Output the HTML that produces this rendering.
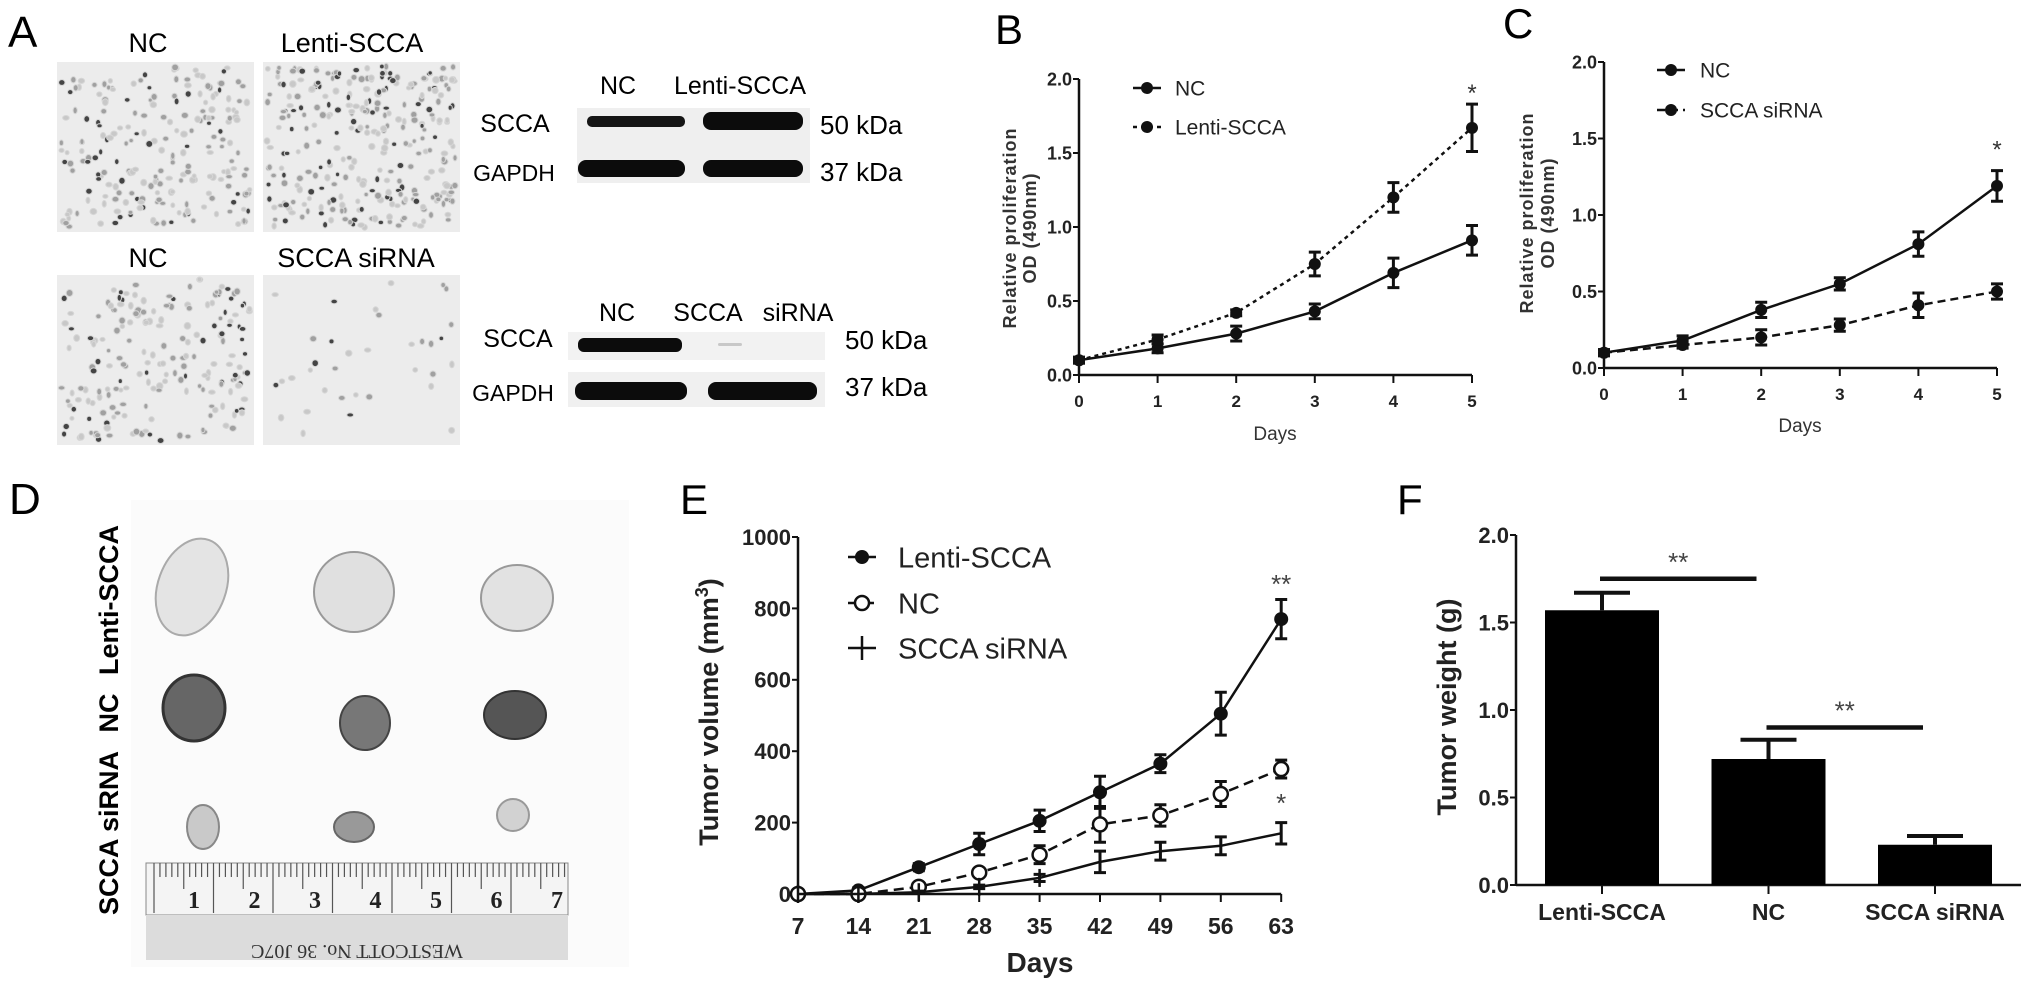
<!DOCTYPE html>
<html><head><meta charset="utf-8"><title>SCCA figure</title>
<style>
html,body{margin:0;padding:0;background:#fff;}
svg{display:block;font-family:"Liberation Sans",Arial,sans-serif;}
.b{font-weight:bold;}
</style></head>
<body>
<svg id="fig" xmlns="http://www.w3.org/2000/svg" width="2031" height="992" viewBox="0 0 2031 992">
<rect x="0" y="0" width="2031" height="992" fill="#fff"/>
<!-- Panel A -->
<text x="8" y="47" font-size="44">A</text>
<text x="148" y="52" font-size="27" text-anchor="middle">NC</text>
<text x="352" y="52" font-size="27" text-anchor="middle">Lenti-SCCA</text>
<text x="148" y="267" font-size="27" text-anchor="middle">NC</text>
<text x="356" y="267" font-size="27" text-anchor="middle">SCCA siRNA</text>
<g id="micro"></g>
<!-- Western blots -->
<g>
<text x="618" y="94" font-size="25" text-anchor="middle">NC</text>
<text x="740" y="94" font-size="25" text-anchor="middle">Lenti-SCCA</text>
<text x="515" y="132" font-size="25" text-anchor="middle">SCCA</text>
<text x="514" y="181" font-size="23" text-anchor="middle">GAPDH</text>
<rect x="577" y="108" width="233" height="75" fill="#efefef"/>
<rect x="587" y="116" width="98" height="11" rx="5" fill="#151515"/>
<rect x="703" y="112" width="100" height="18" rx="8" fill="#0c0c0c"/>
<rect x="578" y="160" width="107" height="17" rx="8" fill="#0c0c0c"/>
<rect x="703" y="160" width="100" height="17" rx="8" fill="#0c0c0c"/>
<text x="820" y="134" font-size="26">50 kDa</text>
<text x="820" y="181" font-size="26">37 kDa</text>
</g>
<g>
<text x="617" y="321" font-size="25" text-anchor="middle">NC</text>
<text x="708" y="321" font-size="25" text-anchor="middle">SCCA</text>
<text x="798" y="321" font-size="25" text-anchor="middle">siRNA</text>
<text x="518" y="347" font-size="25" text-anchor="middle">SCCA</text>
<text x="513" y="401" font-size="23" text-anchor="middle">GAPDH</text>
<rect x="568" y="332" width="257" height="28" fill="#f2f2f2"/>
<rect x="568" y="372" width="257" height="35" fill="#f0f0f0"/>
<rect x="578" y="338" width="104" height="14" rx="6" fill="#0c0c0c"/>
<rect x="718" y="343" width="24" height="3" rx="1.5" fill="#c8c8c8"/>
<rect x="575" y="382" width="112" height="18" rx="8" fill="#0c0c0c"/>
<rect x="708" y="382" width="109" height="18" rx="8" fill="#0c0c0c"/>
<text x="845" y="349" font-size="26">50 kDa</text>
<text x="845" y="396" font-size="26">37 kDa</text>
</g>
<!-- Panel D -->
<text x="9" y="514" font-size="44">D</text>
<rect x="131" y="500" width="498" height="467" fill="#fbfbfb"/>
<text transform="translate(118,600) rotate(-90)" font-size="27" class="b" text-anchor="middle">Lenti-SCCA</text>
<text transform="translate(118,713) rotate(-90)" font-size="27" class="b" text-anchor="middle">NC</text>
<text transform="translate(118,833) rotate(-90)" font-size="27" class="b" text-anchor="middle">SCCA  siRNA</text>
<g>
<ellipse cx="192" cy="587" rx="34" ry="50" transform="rotate(20 192 587)" fill="#e4e4e4" stroke="#aaa" stroke-width="2"/>
<ellipse cx="354" cy="592" rx="40" ry="40" fill="#e0e0e0" stroke="#999" stroke-width="2"/>
<ellipse cx="517" cy="598" rx="36" ry="33" fill="#e2e2e2" stroke="#999" stroke-width="2"/>
<ellipse cx="194" cy="708" rx="31" ry="33" fill="#666" stroke="#333" stroke-width="3"/>
<ellipse cx="365" cy="723" rx="25" ry="27" fill="#777" stroke="#444" stroke-width="2"/>
<ellipse cx="515" cy="715" rx="31" ry="24" fill="#555" stroke="#333" stroke-width="2"/>
<ellipse cx="203" cy="827" rx="16" ry="22" fill="#c9c9c9" stroke="#888" stroke-width="2"/>
<ellipse cx="354" cy="827" rx="20" ry="15" fill="#999" stroke="#666" stroke-width="2"/>
<ellipse cx="513" cy="815" rx="16" ry="16" fill="#d2d2d2" stroke="#999" stroke-width="2"/>
</g>
<g id="ruler">
<rect x="146" y="863" width="422" height="52" fill="#f4f4f4" stroke="#888"/>
<rect x="146" y="915" width="422" height="45" fill="#dcdcdc"/>
<text transform="translate(357,945) rotate(180)" font-size="20" font-family="Liberation Serif" text-anchor="middle" fill="#333">WESTCOTT   No. 36     J07C</text>
</g>
<!-- Panel B/C/E/F labels -->
<text x="995" y="44" font-size="42">B</text>
<text x="1503" y="38" font-size="42">C</text>
<text x="680" y="514" font-size="42">E</text>
<text x="1397" y="514" font-size="42">F</text>
<g id="chartB"></g>
<g id="chartC"></g>
<g id="chartE"></g>
<g id="chartF"></g>
</svg>
<script>
// ---- Chart data ----
const bDays = [0,1,2,3,4,5];
const bNC = [0.1,0.18,0.28,0.43,0.69,0.91];
const bNCErr = [0.02,0.03,0.05,0.05,0.1,0.1];
const bLenti = [0.1,0.24,0.42,0.75,1.2,1.67];
const bLentiErr = [0.02,0.03,0.02,0.08,0.1,0.16];
const bYTicks = [0,0.5,1.0,1.5,2.0];
const bYTickLabels = ["0.0","0.5","1.0","1.5","2.0"];

const cDays = [0,1,2,3,4,5];
const cNC = [0.1,0.18,0.38,0.55,0.81,1.19];
const cNCErr = [0.02,0.03,0.05,0.04,0.08,0.1];
const cSi = [0.1,0.15,0.2,0.28,0.41,0.5];
const cSiErr = [0.02,0.02,0.05,0.04,0.08,0.05];
const cYTicks = [0,0.5,1.0,1.5,2.0];
const cYTickLabels = ["0.0","0.5","1.0","1.5","2.0"];

const eDays = [7,14,21,28,35,42,49,56,63];
const eLenti = [0,10,75,140,205,285,365,505,770];
const eLentiErr = [0,8,10,30,30,45,25,60,55];
const eNC = [0,0,20,60,110,195,220,280,350];
const eNCErr = [0,0,8,10,25,50,30,35,25];
const eSi = [0,0,5,20,45,90,120,135,170];
const eSiErr = [0,0,3,5,10,30,25,25,30];
const eYTicks = [0,200,400,600,800,1000];

const fCats = ["Lenti-SCCA","NC","SCCA  siRNA"];
const fVals = [1.57,0.72,0.23];
const fErr = [0.1,0.11,0.05];
const fYTicks = [0,0.5,1.0,1.5,2.0];
const fYTickLabels = ["0.0","0.5","1.0","1.5","2.0"];

const NS = "http://www.w3.org/2000/svg";
function mk(parent, tag, attrs, txt){
  const el = document.createElementNS(NS, tag);
  for (const k in attrs) el.setAttribute(k, attrs[k]);
  if (txt !== undefined) el.textContent = txt;
  parent.appendChild(el);
  return el;
}
function pathFrom(xs, ys){ return xs.map((x,i)=>(i?"L":"M")+x.toFixed(1)+","+ys[i].toFixed(1)).join(" "); }

// ---- Micrographs (texture only) ----
(function(){
  const g = document.getElementById("micro");
  const boxes = [[57,62,197,170,220],[263,62,197,170,300],[57,275,197,170,200],[263,275,197,170,35]];
  let s = 12345;
  function rnd(){ s = (s*1103515245+12345) & 0x7fffffff; return s/0x7fffffff; }
  boxes.forEach((b,bi)=>{
    const r = mk(g,"rect",{x:b[0],y:b[1],width:b[2],height:b[3],fill:"#ececec"});
    
    
    for(let i=0;i<b[4];i++){
      const cx=b[0]+4+rnd()*(b[2]-8), cy=b[1]+4+rnd()*(b[3]-8);
      const dark = rnd();
      const c = mk(g,"ellipse",{cx:cx,cy:cy,rx:2+rnd()*1.5,ry:2+rnd()*1.5,fill:dark>0.8?"#444":(dark>0.45?"#a0a0a0":"#c8c8c8"),stroke:"#d6d6d6","stroke-width":1});
      
      
    }
  });
  // ruler ticks and numbers
  const rg = document.getElementById("ruler");
  for(let i=0;i<=70;i++){
    const x=146+8+i*5.95; if(x>566) break;
    const h = i%10===0?50:(i%5===0?26:14);
    const t = mk(rg,"line",{x1:x,y1:863,x2:x,y2:863+h,stroke:"#555","stroke-width":1.2});
    
    
  }
  for(let n=1;n<=7;n++){
    const t = mk(rg,"text",{x:194+(n-1)*60.5,y:908,"font-size":24,"font-family":"Liberation Serif","font-weight":"bold","text-anchor":"middle",fill:"#222"},String(n));
    
    
  }
})();

// ---- Line chart builder ----
function lineChart(g, cfg){
  const X = cfg.x, Y = cfg.y;
  const ya = mk(g,"line",{x1:X(cfg.xmin),y1:Y(0),x2:X(cfg.xmin),y2:Y(cfg.ymax),stroke:"#111","stroke-width":2.5});
  
  
  const xa = mk(g,"line",{x1:X(cfg.xmin),y1:Y(0),x2:X(cfg.xmax),y2:Y(0),stroke:"#111","stroke-width":2.5});
  
  
  cfg.yTicks.forEach((v,i)=>{
    const t = mk(g,"line",{x1:X(cfg.xmin)-6,y1:Y(v),x2:X(cfg.xmin),y2:Y(v),stroke:"#111","stroke-width":2});
    
    
    const l = mk(g,"text",{x:X(cfg.xmin)-7,y:Y(v)+cfg.yfs*0.36,"font-size":cfg.yfs,"font-weight":"bold","text-anchor":"end",fill:"#222"},cfg.yLabels[i]);
    
    
  });
  cfg.xTicks.forEach(d=>{
    const t = mk(g,"line",{x1:X(d),y1:Y(0),x2:X(d),y2:Y(0)+8,stroke:"#111","stroke-width":2});
    
    
    const l = mk(g,"text",{x:X(d),y:Y(0)+cfg.xlOff,"font-size":cfg.xfs,"font-weight":"bold","text-anchor":"middle",fill:"#222"},String(d));
    
    
  });
  cfg.series.forEach(s=>{
    const xs = cfg.xTicks.map(X), ys = s.vals.map(Y);
    const p = mk(g,"path",{d:pathFrom(xs,ys),fill:"none",stroke:"#111","stroke-width":2.5,"stroke-dasharray":s.dash||"none"});
    
    
    s.vals.forEach((v,i)=>{
      const e = s.err[i];
      if(e>0){
        const eb = mk(g,"path",{d:`M${xs[i]},${Y(v-e)} L${xs[i]},${Y(v+e)} M${xs[i]-6},${Y(v-e)} L${xs[i]+6},${Y(v-e)} M${xs[i]-6},${Y(v+e)} L${xs[i]+6},${Y(v+e)}`,stroke:"#111","stroke-width":3,fill:"none"});
        
        
      }
      let m;
      if(s.marker==="open") m = mk(g,"circle",{cx:xs[i],cy:ys[i],r:cfg.mr,fill:"#fff",stroke:"#111","stroke-width":2.5});
      else if(s.marker==="plus") m = mk(g,"path",{d:`M${xs[i]},${ys[i]-9} L${xs[i]},${ys[i]+9}`,stroke:"#111","stroke-width":2.5});
      else m = mk(g,"circle",{cx:xs[i],cy:ys[i],r:cfg.mr,fill:"#111"});
      
      
    });
  });
  cfg.legend.forEach((L,i)=>{
    const y = L.y;
    const s = cfg.series[i];
    const ln = mk(g,"line",{x1:L.x-14,y1:y,x2:L.x+14,y2:y,stroke:"#111","stroke-width":2.5,"stroke-dasharray":s.dash||"none"});
    
    
    let m;
    if(s.marker==="open") m = mk(g,"circle",{cx:L.x,cy:y,r:cfg.mr,fill:"#fff",stroke:"#111","stroke-width":2.5});
    else if(s.marker==="plus") m = mk(g,"path",{d:`M${L.x},${y-12} L${L.x},${y+12}`,stroke:"#111","stroke-width":2.5});
    else m = mk(g,"circle",{cx:L.x,cy:y,r:cfg.mr,fill:"#111"});
    
    
    const t = mk(g,"text",{x:L.tx,y:y+cfg.lfs*0.36,"font-size":cfg.lfs,fill:"#222"},L.text);
    
    
  });
}

// Chart B
(function(){
  const g = document.getElementById("chartB");
  const X = d=>1079+d*78.6, Y = v=>375-v*148;
  lineChart(g,{x:X,y:Y,xmin:0,xmax:5,ymax:2,yTicks:bYTicks,yLabels:bYTickLabels,xTicks:bDays,yfs:18,xfs:17,xlOff:32,mr:6,lfs:21,
    series:[{name:'nc',vals:bNC,err:bNCErr},{name:'lenti-scca',vals:bLenti,err:bLentiErr,dash:"4,4"}],
    legend:[{x:1147,tx:1175,y:88,text:"NC"},{x:1147,tx:1175,y:127,text:"Lenti-SCCA"}]});
  const st = mk(g,"text",{x:X(5),y:Y(1.92)+10,"font-size":24,"text-anchor":"middle",fill:"#333"},"*");
  
  
  const xt = mk(g,"text",{x:1275,y:440,"font-size":19,"text-anchor":"middle",fill:"#333"},"Days");
  
  
  const y1 = mk(g,"text",{transform:"translate(1016,228) rotate(-90)","font-size":18,"font-weight":"bold","text-anchor":"middle","letter-spacing":"1",fill:"#333"},"Relative  proliferation");
  
  
  const y2 = mk(g,"text",{transform:"translate(1036,228) rotate(-90)","font-size":18,"font-weight":"bold","text-anchor":"middle","letter-spacing":"1",fill:"#333"},"OD  (490nm)");
  
  
})();

// Chart C
(function(){
  const g = document.getElementById("chartC");
  const X = d=>1604+d*78.6, Y = v=>368-v*153;
  lineChart(g,{x:X,y:Y,xmin:0,xmax:5,ymax:2,yTicks:cYTicks,yLabels:cYTickLabels,xTicks:cDays,yfs:18,xfs:17,xlOff:32,mr:6,lfs:21,
    series:[{name:'nc',vals:cNC,err:cNCErr},{name:'scca-sirna',vals:cSi,err:cSiErr,dash:"8,5"}],
    legend:[{x:1671,tx:1700,y:70,text:"NC"},{x:1671,tx:1700,y:110,text:"SCCA  siRNA"}]});
  const st = mk(g,"text",{x:X(5),y:Y(1.44)+10,"font-size":24,"text-anchor":"middle",fill:"#333"},"*");
  
  
  const xt = mk(g,"text",{x:1800,y:432,"font-size":19,"text-anchor":"middle",fill:"#333"},"Days");
  
  
  const y1 = mk(g,"text",{transform:"translate(1533,213) rotate(-90)","font-size":18,"font-weight":"bold","text-anchor":"middle","letter-spacing":"1",fill:"#333"},"Relative  proliferation");
  
  
  const y2 = mk(g,"text",{transform:"translate(1554,213) rotate(-90)","font-size":18,"font-weight":"bold","text-anchor":"middle","letter-spacing":"1",fill:"#333"},"OD  (490nm)");
  
  
})();

// Chart E
(function(){
  const g = document.getElementById("chartE");
  const X = d=>798+(d-7)/7*60.4, Y = v=>894-v*0.357;
  lineChart(g,{x:X,y:Y,xmin:7,xmax:63,ymax:1000,yTicks:eYTicks,yLabels:eYTicks.map(String),xTicks:eDays,yfs:22,xfs:23,xlOff:40,mr:7,lfs:29,
    series:[{name:'lenti-scca',vals:eLenti,err:eLentiErr},{name:'nc',vals:eNC,err:eNCErr,dash:"10,6",marker:"open"},{name:'scca-sirna',vals:eSi,err:eSiErr,marker:"plus"}],
    legend:[{x:862,tx:898,y:557,text:"Lenti-SCCA"},{x:862,tx:898,y:603,text:"NC"},{x:862,tx:898,y:648,text:"SCCA  siRNA"}]});
  const s1 = mk(g,"text",{x:X(63),y:593,"font-size":26,"text-anchor":"middle",fill:"#444"},"**");
  
  
  const s2 = mk(g,"text",{x:X(63),y:812,"font-size":26,"text-anchor":"middle",fill:"#444"},"*");
  
  
  const xt = mk(g,"text",{x:1040,y:972,"font-size":28,"font-weight":"bold","text-anchor":"middle",fill:"#222"},"Days");
  
  
  const yt = mk(g,"text",{transform:"translate(718,712) rotate(-90)","font-size":27,"font-weight":"bold","text-anchor":"middle",fill:"#222"});
  
  
  yt.textContent = "Tumor volume (mm";
  const sup = mk(yt,"tspan",{"font-size":18,dy:-10},"3");
  
  
  const cl = mk(yt,"tspan",{dy:10},")");
  
  
})();

// Chart F
(function(){
  const g = document.getElementById("chartF");
  const Y = v=>885-v*175, X = i=>1602+i*166.5, BW = 114, AX = 1516;
  const ya = mk(g,"line",{x1:AX,y1:Y(0),x2:AX,y2:Y(2),stroke:"#111","stroke-width":2.5});
  
  
  const xa = mk(g,"line",{x1:AX,y1:Y(0),x2:2021,y2:Y(0),stroke:"#111","stroke-width":2.5});
  
  
  fYTicks.forEach((v,i)=>{
    const t = mk(g,"line",{x1:AX-6,y1:Y(v),x2:AX,y2:Y(v),stroke:"#111","stroke-width":2});
    
    
    const l = mk(g,"text",{x:AX-7,y:Y(v)+8,"font-size":22,"font-weight":"bold","text-anchor":"end",fill:"#222"},fYTickLabels[i]);
    
    
  });
  fCats.forEach((c,i)=>{
    const e = mk(g,"path",{d:`M${X(i)},${Y(fVals[i])} L${X(i)},${Y(fVals[i]+fErr[i])} M${X(i)-28},${Y(fVals[i]+fErr[i])} L${X(i)+28},${Y(fVals[i]+fErr[i])}`,stroke:"#111","stroke-width":4,fill:"none"});
    
    
    const b = mk(g,"rect",{x:X(i)-BW/2,y:Y(fVals[i]),width:BW,height:Y(0)-Y(fVals[i]),fill:"#000"});
    
    
    const t = mk(g,"line",{x1:X(i),y1:Y(0),x2:X(i),y2:Y(0)+9,stroke:"#111","stroke-width":2});
    
    
    const l = mk(g,"text",{x:X(i),y:920,"font-size":23,"font-weight":"bold","text-anchor":"middle",fill:"#222"},c);
    
    
  });
  const sig = [[0,1,1.75],[1,2,0.9]];
  sig.forEach(s=>{
    const ln = mk(g,"line",{x1:X(s[0])-2,y1:Y(s[2]),x2:X(s[1])-12,y2:Y(s[2]),stroke:"#111","stroke-width":4.5});
    
    
    const st = mk(g,"text",{x:(X(s[0])+X(s[1]))/2-7,y:Y(s[2])-8,"font-size":26,"text-anchor":"middle",fill:"#444"},"**");
    
    
  });
  const yt = mk(g,"text",{transform:"translate(1456,707) rotate(-90)","font-size":27,"font-weight":"bold","text-anchor":"middle",fill:"#222"},"Tumor weight (g)");
  
  
})();
</script>
</body></html>
